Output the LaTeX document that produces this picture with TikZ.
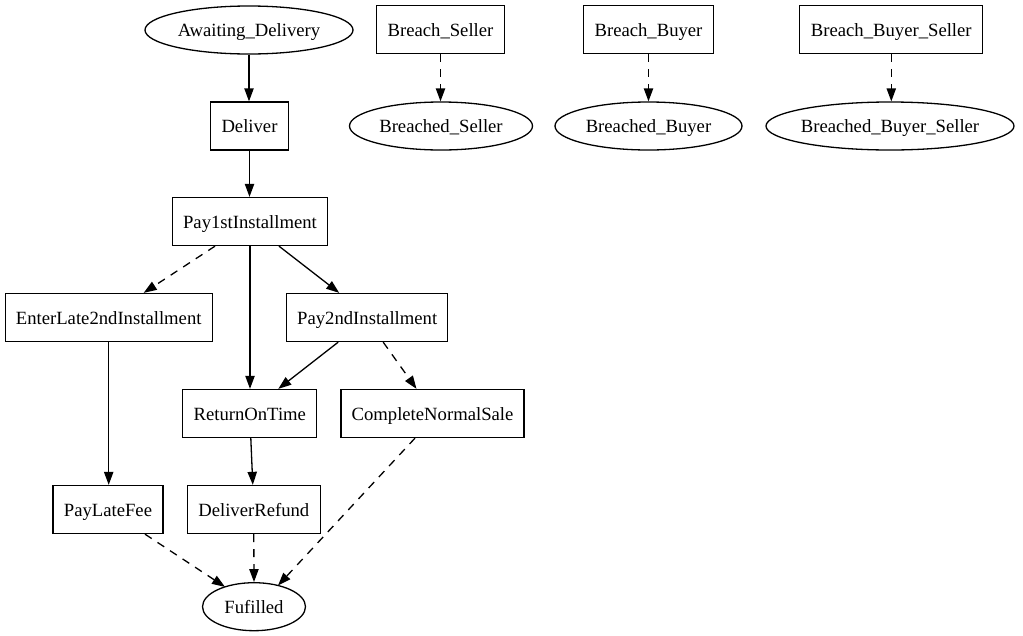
\documentclass[tikz,border=0pt]{standalone}
\usepackage{fontspec}
\setmainfont{Liberation Serif}
\usetikzlibrary{shapes.geometric,arrows.meta}
\newcommand{\gvfont}{\fontsize{18.67}{22}\selectfont}
\tikzset{
  box/.style={draw, rectangle, line width=1.3pt, minimum height=48pt, inner sep=0pt, text height=13.5pt, text depth=0.5pt, font=\gvfont},
  oval/.style={draw, ellipse, line width=1.3pt, minimum height=48pt, inner xsep=-6pt, inner ysep=0pt, text height=13.5pt, text depth=0.5pt, font=\gvfont},
  edge/.style={line width=1.3pt, -{Triangle[length=13pt,width=9.3pt]}},
  dedge/.style={edge, dash pattern=on 8pt off 7pt},
}
\begin{document}
\begin{tikzpicture}[x=1pt,y=-1pt]
\useasboundingbox (0,0) rectangle (1023,635);
% nodes
\node[oval, minimum width=208pt] (AD) at (249,30) {Awaiting\_Delivery};
\node[box, minimum width=128pt] (BS) at (440.5,29.5) {Breach\_Seller};
\node[box, minimum width=130pt] (BB) at (648.5,29.5) {Breach\_Buyer};
\node[box, minimum width=183pt] (BBS) at (891.3,29.5) {Breach\_Buyer\_Seller};
\node[oval, minimum width=183pt] (BdS) at (441,126) {Breached\_Seller};
\node[oval, minimum width=187pt] (BdB) at (648.5,126) {Breached\_Buyer};
\node[oval, minimum width=248pt] (BdBS) at (890,126) {Breached\_Buyer\_Seller};
\node[box, minimum width=78pt] (Dl) at (249.5,126) {Deliver};
\node[box, minimum width=155pt] (P1) at (250,221.5) {Pay1stInstallment};
\node[box, minimum width=207pt] (EL) at (108.7,317.5) {EnterLate2ndInstallment};
\node[box, minimum width=161pt] (P2) at (367.2,317.5) {Pay2ndInstallment};
\node[box, minimum width=134pt] (ROT) at (249.8,413.5) {ReturnOnTime};
\node[box, minimum width=183pt] (CNS) at (432.5,413.5) {CompleteNormalSale};
\node[box, minimum width=110pt] (PLF) at (108,509.5) {PayLateFee};
\node[box, minimum width=133pt] (DR) at (253.8,509.5) {DeliverRefund};
\node[oval, minimum width=103pt] (F) at (254,606.7) {Fufilled};
% edges
\draw[edge] (AD.south) -- (AD.south |- Dl.north);
\draw[dedge] (BS.south) -- (BS.south |- BdS.north);
\draw[dedge] (BB.south) -- (BB.south |- BdB.north);
\draw[dedge] (BBS.south) -- (BBS.south |- BdBS.north);
\draw[edge] (Dl.south) -- (Dl.south |- P1.north);
\draw[dedge] ([xshift=-35pt]P1.south) -- ([xshift=35pt]EL.north);
\draw[edge] (P1.south) -- (P1.south |- ROT.north);
\draw[edge] ([xshift=29pt]P1.south) -- ([xshift=-28pt]P2.north);
\draw[edge] (EL.south) -- (EL.south |- PLF.north);
\draw[edge] ([xshift=-29pt]P2.south) -- ([xshift=28.5pt]ROT.north);
\draw[dedge] ([xshift=16pt]P2.south) -- ([xshift=-16pt]CNS.north);
\draw[edge] ([xshift=1pt]ROT.south) -- ([xshift=-1pt]DR.north);
\draw[dedge] ([xshift=37pt]PLF.south) -- ([shift={(-29,-19.8)}]F.center);
\draw[dedge] (DR.south) -- (F.north);
\draw[dedge] ([xshift=-17.5pt]CNS.south) -- ([shift={(24,-21.2)}]F.center);
\end{tikzpicture}
\end{document}
